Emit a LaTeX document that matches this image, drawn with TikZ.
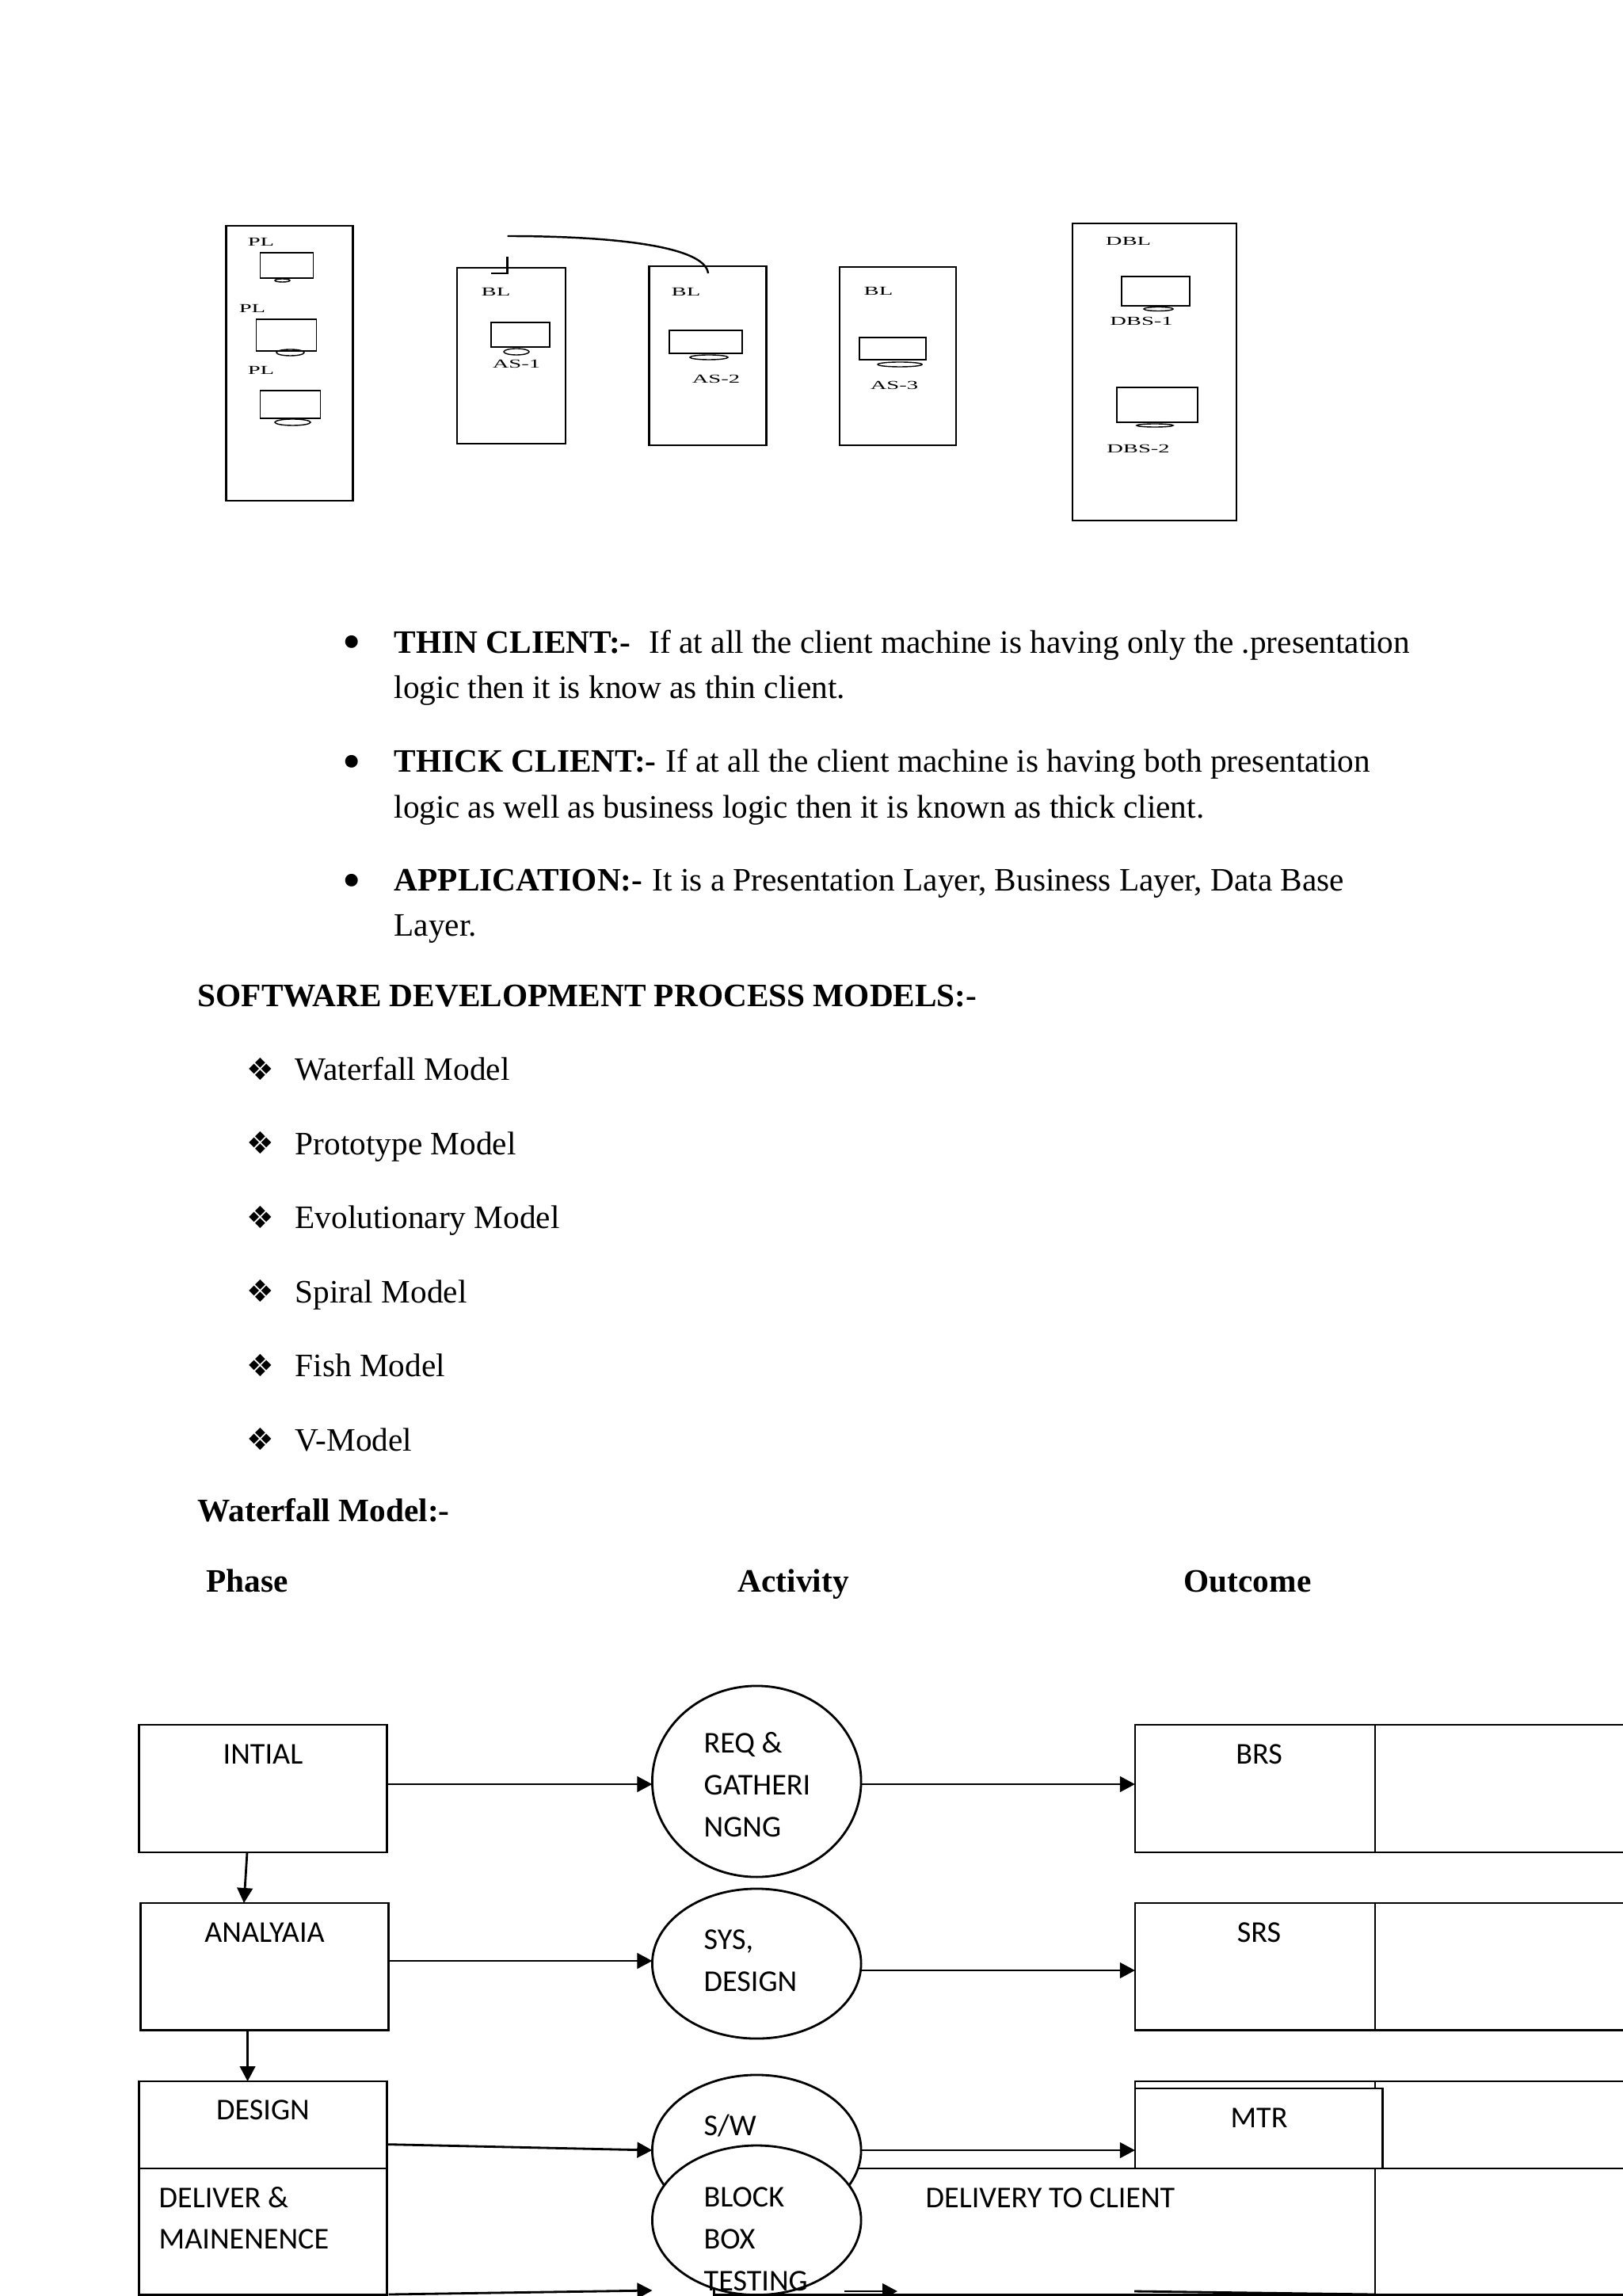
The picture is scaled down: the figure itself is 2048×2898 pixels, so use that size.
\documentclass[tikz,border=0pt]{standalone}
\usepackage{fontspec}
\setmainfont{Liberation Serif}
\newfontfamily\calibrifont{Carlito}
\newfontfamily\signfont{DejaVu Sans}
\newfontfamily\scanfont[FakeStretch=1.85]{Liberation Serif}
\usetikzlibrary{shapes.geometric, arrows.meta}
\tikzset{
	rack/.style={rectangle, draw, line width=0.65pt, inner sep=0pt, outer sep=0pt},
	monitor/.style={rectangle, draw, line width=0.5pt, inner sep=0pt, outer sep=0pt},
	stand/.style={ellipse, draw, line width=0.4pt, inner sep=0pt, outer sep=0pt},
	scanlabel/.style={inner sep=0pt, font=\fontsize{4.4}{5}\scanfont},
	bodytext/.style={anchor=base west, inner sep=0pt, font=\fontsize{11.75}{14}\selectfont},
	headtext/.style={anchor=base west, inner sep=0pt, font=\fontsize{11.75}{14}\selectfont\bfseries},
	bulletmark/.style={anchor=base, inner sep=0pt, font=\fontsize{19}{20}\selectfont},
	diamondmark/.style={anchor=base, inner sep=0pt, font=\fontsize{11}{14}\signfont},
	flowbox/.style={rectangle, draw, fill=white, line width=0.8pt, inner sep=0pt, outer sep=0pt},
	activity/.style={ellipse, draw, fill=white, line width=0.8pt, inner sep=0pt, outer sep=0pt},
	flowtext/.style={anchor=base west, inner sep=0pt, font=\fontsize{10.85}{13}\calibrifont},
	flowmid/.style={anchor=base, inner sep=0pt, font=\fontsize{10.85}{13}\calibrifont},
	arr/.style={line width=0.8pt, -{Triangle[length=0.19cm, width=0.195cm]}}
}
\begin{document}
\begin{tikzpicture}[x=0.01cm, y=-0.01cm]
    \useasboundingbox (0,0) rectangle (2048,2898);

    % racks
    \node[rack, minimum width=1.60cm, minimum height=3.47cm] (plrack) at (365.5,458.5) {};
    \node[monitor, minimum width=0.67cm, minimum height=0.32cm] (plone) at (362,335) {};
    \node[stand, minimum width=0.19cm, minimum height=0.04cm] (plonefoot) at (356.5,354) {};
    \node[monitor, minimum width=0.76cm, minimum height=0.40cm] (pltwo) at (361.5,423) {};
    \node[stand, minimum width=0.35cm, minimum height=0.08cm] (pltwofoot) at (366.5,445) {};
    \node[monitor, minimum width=0.76cm, minimum height=0.35cm] (plthree) at (366.5,510.5) {};
    \node[stand, minimum width=0.45cm, minimum height=0.08cm] (plthreefoot) at (369.5,533) {};
    \node[scanlabel] (pllabelone) at (329.5,305) {PL};
    \node[scanlabel] (pllabeltwo) at (318.5,389) {PL};
    \node[scanlabel] (pllabelthree) at (329.5,467) {PL};

    \node[rack, minimum width=1.37cm, minimum height=2.22cm] (asone) at (645.5,449) {};
    \node[monitor, minimum width=0.74cm, minimum height=0.31cm] (asonescreen) at (657,422.5) {};
    \node[stand, minimum width=0.32cm, minimum height=0.08cm] (asonefoot) at (652,444) {};
    \node[scanlabel] (bllabelone) at (626,368) {BL};
    \node[scanlabel] (asonelabel) at (652,459) {AS-1};

    \node[rack, minimum width=1.48cm, minimum height=2.26cm] (astwo) at (893.5,449) {};
    \node[monitor, minimum width=0.92cm, minimum height=0.29cm] (astwoscreen) at (891,431.5) {};
    \node[stand, minimum width=0.48cm, minimum height=0.06cm] (astwofoot) at (895,451) {};
    \node[scanlabel] (bllabeltwo) at (866,368) {BL};
    \node[scanlabel] (astwolabel) at (904,478) {AS-2};

    \node[rack, minimum width=1.47cm, minimum height=2.25cm] (asthree) at (1133.5,449.5) {};
    \node[monitor, minimum width=0.84cm, minimum height=0.28cm] (asthreescreen) at (1127,440) {};
    \node[stand, minimum width=0.56cm, minimum height=0.06cm] (asthreefoot) at (1136,460) {};
    \node[scanlabel] (bllabelthree) at (1109,367) {BL};
    \node[scanlabel] (asthreelabel) at (1129,486) {AS-3};

    \node[rack, minimum width=2.07cm, minimum height=3.75cm] (dblrack) at (1457.5,469.5) {};
    \node[monitor, minimum width=0.86cm, minimum height=0.37cm] (dbsone) at (1459,367.5) {};
    \node[stand, minimum width=0.37cm, minimum height=0.05cm] (dbsonefoot) at (1462.5,390) {};
    \node[monitor, minimum width=1.02cm, minimum height=0.44cm] (dbstwo) at (1461,511) {};
    \node[stand, minimum width=0.46cm, minimum height=0.04cm] (dbstwofoot) at (1458,537) {};
    \node[scanlabel] (dbllabel) at (1424.5,304) {DBL};
    \node[scanlabel] (dbsonelabel) at (1441,405) {DBS-1};
    \node[scanlabel] (dbstwolabel) at (1437,566) {DBS-2};

    \coordinate (hooktop) at (640.6,324);
    \coordinate (hookbend) at (640.6,345);
    \coordinate (hookend) at (620,345);
    \coordinate (wirestart) at (640.6,298);
    \coordinate (wireend) at (894,345);
    \draw[line width=0.7pt] (hooktop) -- (hookbend) -- (hookend);
    \draw[line width=0.7pt] (wirestart) .. controls (770,298) and (890,310) .. (wireend);

    % text
    \node[bulletmark] (bulletone) at (444,833) {•};
    \node[headtext] (thinhead) at (497,824.5) {THIN CLIENT:-};
    \node[bodytext] (thinline) at (819,824.5) {If at all the client machine is having only the .presentation};
    \node[bodytext] (thinmore) at (497,882) {logic then it is know as thin client.};
    \node[bulletmark] (bullettwo) at (444,983) {•};
    \node[headtext] (thickhead) at (497,974.5) {THICK CLIENT:-};
    \node[bodytext] (thickline) at (840,974.5) {If at all the client machine is having both presentation};
    \node[bodytext] (thickmore) at (497,1032) {logic as well as business logic then it is known as thick client.};
    \node[bulletmark] (bulletthree) at (444,1133) {•};
    \node[headtext] (apphead) at (497,1124) {APPLICATION:-};
    \node[bodytext] (appline) at (823,1124) {It is a Presentation Layer, Business Layer, Data Base};
    \node[bodytext] (appmore) at (497,1181.5) {Layer.};
    \node[headtext] (processhead) at (249,1270) {SOFTWARE DEVELOPMENT PROCESS MODELS:-};

    \node[diamondmark] (markone) at (329,1363) {❖};
    \node[bodytext] (modelone) at (372,1363.5) {Waterfall Model};
    \node[diamondmark] (marktwo) at (329,1456.5) {❖};
    \node[bodytext] (modeltwo) at (372,1457) {Prototype Model};
    \node[diamondmark] (markthree) at (329,1550) {❖};
    \node[bodytext] (modelthree) at (372,1550.5) {Evolutionary Model};
    \node[diamondmark] (markfour) at (329,1643.5) {❖};
    \node[bodytext] (modelfour) at (372,1644) {Spiral Model};
    \node[diamondmark] (markfive) at (329,1737) {❖};
    \node[bodytext] (modelfive) at (372,1737.5) {Fish Model};
    \node[diamondmark] (marksix) at (329,1830.5) {❖};
    \node[bodytext] (modelsix) at (372,1831) {V-Model};

    \node[headtext] (waterfallhead) at (249,1920) {Waterfall Model:-};
    \node[headtext] (phasehead) at (259.5,2009.5) {Phase};
    \node[headtext] (activityhead) at (931,2009.5) {Activity};
    \node[headtext] (outcomehead) at (1494,2009.5) {Outcome};

    % waterfall rows
    \node[flowbox, minimum width=3.13cm, minimum height=1.61cm] (intial) at (332,2257.5) {};
    \node[flowbox, minimum width=3.13cm, minimum height=1.606cm] (analyaia) at (334,2482.3) {};
    \node[flowbox, minimum width=3.13cm, minimum height=1.61cm] (design) at (332,2707.5) {};
    \node[flowbox, minimum width=3.13cm, minimum height=1.594cm] (deliver) at (332,2816.7) {};

    \node[flowbox, minimum width=3.03cm, minimum height=1.61cm] (brs) at (1584.5,2257.5) {};
    \node[flowbox, minimum width=3.24cm, minimum height=1.61cm] (brsnote) at (1898,2257.5) {};
    \node[flowbox, minimum width=3.03cm, minimum height=1.606cm] (srs) at (1584.5,2482.3) {};
    \node[flowbox, minimum width=3.24cm, minimum height=1.606cm] (srsnote) at (1898,2482.3) {};
    \node[flowbox, minimum width=3.03cm, minimum height=1.61cm] (mtrback) at (1584.5,2707.5) {};
    \node[flowbox, minimum width=3.24cm, minimum height=1.61cm] (mtrnote) at (1898,2707.5) {};
    \node[flowbox, minimum width=3.12cm, minimum height=1.01cm] (mtr) at (1589,2686.5) {};
    \node[flowbox, minimum width=8.34cm, minimum height=1.594cm] (delivery) at (1319,2816.7) {};
    \node[flowbox, minimum width=3.24cm, minimum height=1.594cm] (deliverynote) at (1898,2816.7) {};

    \node[activity, minimum width=2.635cm, minimum height=2.41cm] (req) at (955.25,2248.5) {};
    \node[activity, minimum width=2.635cm, minimum height=1.89cm] (sys) at (955.25,2478.5) {};
    \node[activity, minimum width=2.635cm, minimum height=1.90cm] (sw) at (955.25,2714) {};
    \node[activity, minimum width=2.635cm, minimum height=1.885cm] (block) at (955.25,2802.3) {};

    \node[flowmid] (intialtext) at (332,2226) {INTIAL};
    \node[flowmid] (analyaiatext) at (334,2451) {ANALYAIA};
    \node[flowmid] (designtext) at (332,2675) {DESIGN};
    \node[flowtext] (delivertext) at (200,2786) {DELIVER \&};
    \node[flowtext] (delivertexttwo) at (200,2838.5) {MAINENENCE};
    \node[flowtext] (reqtext) at (888,2212.5) {REQ \&};
    \node[flowtext] (reqtexttwo) at (888,2265.5) {GATHERI};
    \node[flowtext] (reqtextthree) at (888,2318.5) {NGNG};
    \node[flowtext] (systext) at (888,2460) {SYS,};
    \node[flowtext] (systexttwo) at (888,2513) {DESIGN};
    \node[flowtext] (swtext) at (888,2695) {S/W};
    \node[flowtext] (blocktext) at (888,2785.5) {BLOCK};
    \node[flowtext] (blocktexttwo) at (888,2838.5) {BOX};
    \node[flowtext] (blocktextthree) at (888,2891) {TESTING};
    \node[flowmid] (brstext) at (1589.5,2226) {BRS};
    \node[flowmid] (srstext) at (1589.5,2451) {SRS};
    \node[flowmid] (mtrtext) at (1589.5,2685) {MTR};
    \node[flowtext] (deliverytext) at (1168,2786) {DELIVERY TO CLIENT};

    \coordinate (intialdown) at (312,2338);
    \coordinate (analyaiaup) at (308,2402);
    \coordinate (analyaiadown) at (312.6,2562.6);
    \coordinate (designup) at (312.6,2627);
    \coordinate (deliverout) at (490.6,2896);
    \coordinate (blockin) at (823.5,2891);
    \coordinate (blockout) at (1066,2892);
    \coordinate (deliveryin) at (1133,2892);
    \coordinate (lastout) at (1432,2892);
    \coordinate (lastin) at (1736,2896);

    \draw[arr] (intial.east |- 0,2252) -- (req.west |- 0,2252);
    \draw[arr] (req.east |- 0,2252) -- (brs.west |- 0,2252);
    \draw[arr] (analyaia.east |- 0,2475) -- (sys.west |- 0,2475);
    \draw[arr] (sys.east |- 0,2487) -- (srs.west |- 0,2487);
    \draw[arr] (design.east |- 0,2706.6) -- (sw.west);
    \draw[arr] (sw.east) -- (mtr.west |- 0,2714);
    \draw[arr] (intialdown) -- (analyaiaup);
    \draw[arr] (analyaiadown) -- (designup);
    \draw[arr] (deliverout) -- (blockin);
    \draw[arr] (blockout) -- (deliveryin);
    \draw[line width=0.8pt] (lastout) -- (lastin);
\end{tikzpicture}
\end{document}
